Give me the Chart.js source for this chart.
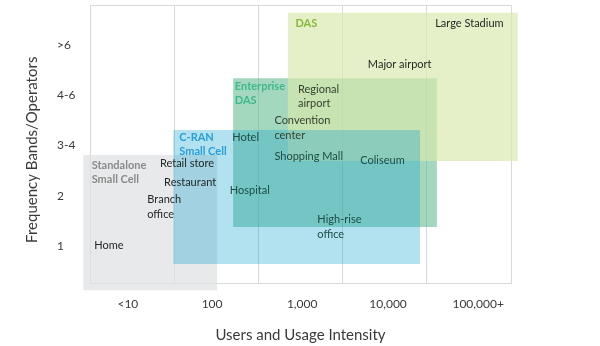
<!DOCTYPE html>
<html><head><meta charset="utf-8">
<script src="https://cdn.jsdelivr.net/npm/chart.js@4/dist/chart.umd.min.js"></script>
<style>html,body{margin:0;padding:0;background:#fff}#wrap{width:600px;height:346px;position:relative}</style>
</head><body><div id="wrap"><canvas id="c"></canvas></div>
<script>
// ---- data ----
const usageCategories = ['<10', '100', '1,000', '10,000', '100,000+'];
const usageLabelAt = [0.45, 1.45, 2.52, 3.54, 4.61];
const usageBounds = [0, 1, 2, 3, 4, 5];
const bandLabels = ['1', '2', '3-4', '4-6', '>6'];
const bandLevels = [1, 2, 3, 4, 5];

// solutions, listed top layer first
const solutionNames = ['C-RAN Small Cell', 'DAS', 'Enterprise DAS', 'Standalone Small Cell'];
const usageFrom = [0.99, 2.35, 1.70, -0.08];
const usageTo   = [3.92, 5.08, 4.12, 1.51];
const bandsFrom = [0.64, 2.69, 1.38, 0.12];
const bandsTo   = [3.31, 5.64, 4.34, 2.81];

const labelLines = [
  ['DAS'], ['Large Stadium'], ['Major airport'], ['Regional', 'airport'], ['Enterprise', 'DAS'],
  ['Convention', 'center'], ['Hotel'], ['C-RAN', 'Small Cell'], ['Shopping Mall'], ['Coliseum'],
  ['Standalone', 'Small Cell'], ['Retail store'], ['Restaurant'], ['Hospital'], ['Branch', 'office'],
  ['High-rise', 'office'], ['Home']
];
const labelKinds = ['DAS', 'venue', 'venue', 'venueDim', 'Enterprise DAS', 'venueDim', 'venueTeal', 'C-RAN Small Cell',
  'venueTeal', 'venueTeal', 'Standalone Small Cell', 'venue', 'venue', 'venueTeal', 'venue', 'venueTeal', 'venue'];
const labelUsage = [2.44, 4.10, 3.30, 2.47, 1.72, 2.19, 1.69, 1.06, 2.19, 3.21, 0.02, 0.83, 0.88, 1.66, 0.68, 2.70, 0.05];
const labelBands = [5.42, 5.42, 4.62, 4.12, 4.18, 3.49, 3.17, 3.17, 2.79, 2.71, 2.61, 2.65, 2.27, 2.10, 1.92, 1.52, 1.02];

// ---- styles ----
const FONT = 'Lato, "Open Sans", sans-serif';
const fills = {
  'C-RAN Small Cell': 'rgba(0,155,205,0.3)',
  'DAS': 'rgba(218,233,173,0.67)',
  'Enterprise DAS': 'rgba(80,180,130,0.52)',
  'Standalone Small Cell': 'rgba(222,224,226,0.7)'
};
const textColors = {
  'venue': '#222826',
  'venueDim': '#34402f',
  'venueTeal': '#1d4b45',
  'DAS': '#86b83c',
  'Enterprise DAS': '#3fb88a',
  'C-RAN Small Cell': '#2a9ed8',
  'Standalone Small Cell': '#8a8a8a'
};
const GRID = '#d9d9d9';

const datasets = solutionNames.map((name, i) => ({
  label: name,
  data: [
    {x: usageFrom[i], y: bandsFrom[i]},
    {x: usageTo[i], y: bandsFrom[i]},
    {x: usageTo[i], y: bandsTo[i]},
    {x: usageFrom[i], y: bandsTo[i]},
    {x: usageFrom[i], y: bandsFrom[i]}
  ],
  xAxisID: 'x', yAxisID: 'y',
  fill: 'shape',
  backgroundColor: fills[name],
  borderColor: 'rgba(0,0,0,0)',
  borderWidth: 0,
  pointRadius: 0, pointHoverRadius: 0,
  tension: 0,
  clip: false
}));

const overlayPlugin = {
  id: 'overlay',
  beforeDatasetsDraw(chart) {
    chart.$realArea = chart.chartArea;
    chart.chartArea = {left: 0, top: 0, right: chart.width, bottom: chart.height, width: chart.width, height: chart.height};
  },
  afterDatasetsDraw(chart) {
    if (chart.$realArea) chart.chartArea = chart.$realArea;
    const ctx = chart.ctx, xs = chart.scales.x, ys = chart.scales.y;
    ctx.save();
    ctx.textAlign = 'left';
    ctx.textBaseline = 'middle';
    labelLines.forEach((lines, i) => {
      const kind = labelKinds[i];
      const isVenue = kind.indexOf('venue') === 0;
      ctx.font = (isVenue ? '400 ' : '700 ') + '11px ' + FONT;
      ctx.fillStyle = textColors[kind];
      const px = xs.getPixelForValue(labelUsage[i]);
      const py = ys.getPixelForValue(labelBands[i]);
      lines.forEach((t, k) => ctx.fillText(t, px, py + k * 14.5));
    });
    ctx.restore();
  }
};

new Chart(document.getElementById('c'), {
  type: 'line',
  data: {datasets},
  plugins: [overlayPlugin],
  options: {
    responsive: true, maintainAspectRatio: false, animation: false, events: [],
    layout: {padding: {left: 0, right: 89, top: 5, bottom: 0}},
    plugins: {legend: {display: false}, tooltip: {enabled: false}},
    scales: {
      x: {
        type: 'linear', position: 'bottom', min: 0, max: 5,
        afterBuildTicks: s => { s.ticks = usageBounds.concat(usageLabelAt).sort((a, b) => a - b).map(v => ({value: v})); },
        afterFit: s => { s.height = 63; },
        grid: {drawTicks: false, lineWidth: 1, color: c => (c.tick && Number.isInteger(c.tick.value)) ? GRID : 'rgba(0,0,0,0)'},
        border: {display: true, color: GRID, width: 1},
        ticks: {
          autoSkip: false, maxRotation: 0, minRotation: 0, padding: 14,
          color: '#3a3a3a', font: {family: FONT, size: 12},
          callback: v => { const k = usageLabelAt.indexOf(v); return k >= 0 ? usageCategories[k] : ''; }
        },
        title: {display: true, text: 'Users and Usage Intensity', color: '#3a3a3a',
          font: {family: FONT, size: 15}, padding: {top: 0, bottom: 2}}
      },
      xTop: {
        type: 'linear', position: 'top', min: 0, max: 5,
        afterFit: s => { s.height = 0; },
        grid: {display: false}, ticks: {display: false},
        border: {display: true, color: GRID, width: 1}
      },
      y: {
        type: 'linear', position: 'left', weight: 0, min: 0.264, max: 5.796,
        afterBuildTicks: s => { s.ticks = bandLevels.map(v => ({value: v})); },
        afterFit: s => { s.width = 33; },
        grid: {display: false, drawTicks: false},
        border: {display: true, color: GRID, width: 1},
        ticks: {
          crossAlign: 'far', padding: 0, autoSkip: false,
          color: '#3a3a3a', font: {family: FONT, size: 12, lineHeight: 0.8},
          callback: v => { const k = bandLevels.indexOf(v); return k >= 0 ? bandLabels[k] : ''; }
        }
      },
      yTitle: {
        type: 'linear', position: 'left', weight: 1,
        afterFit: s => { s.width = 57; },
        grid: {display: false}, ticks: {display: false}, border: {display: false},
        title: {display: true, text: 'Frequency Bands/Operators   ', color: '#3a3a3a',
          font: {family: FONT, size: 15}, padding: {top: 23, bottom: 0}}
      }
    }
  }
});
</script>
</body></html>
